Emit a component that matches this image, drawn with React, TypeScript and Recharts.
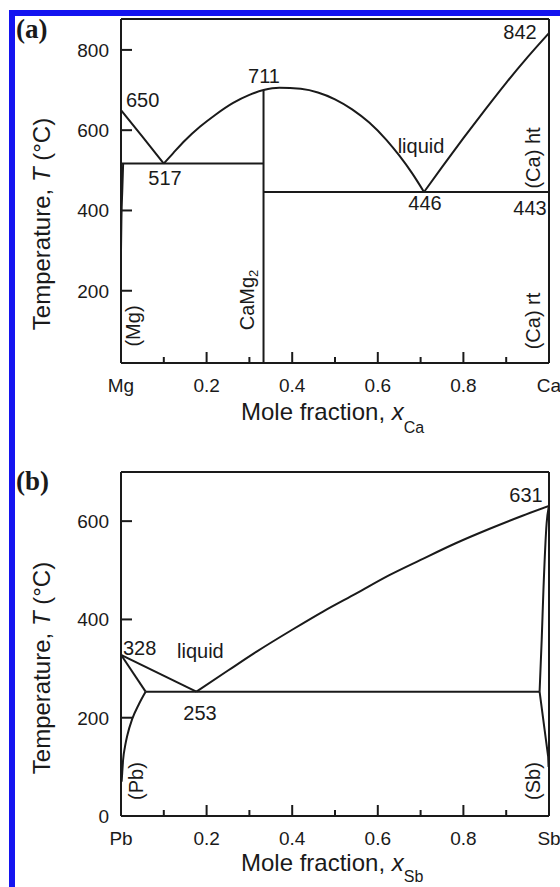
import React from 'react';
import { LineChart, Line, XAxis, YAxis, ReferenceLine } from 'recharts';

const FONT = '"Liberation Sans", Arial, Helvetica, sans-serif';
const SERIF = '"Liberation Serif", "Times New Roman", serif';
const INK = '#1a1a1a';

// ---------- axes ----------
const xTickValues = [0, 0.1, 0.2, 0.3, 0.4, 0.5, 0.6, 0.7, 0.8, 0.9, 1];
const xTickLabelsA = ['Mg', '', '0.2', '', '0.4', '', '0.6', '', '0.8', '', 'Ca'];
const xTickLabelsB = ['Pb', '', '0.2', '', '0.4', '', '0.6', '', '0.8', '', 'Sb'];
const yTicksA = [200, 400, 600, 800];
const yTicksB = [0, 200, 400, 600];
const yDomainA: [number, number] = [20, 877];
const yDomainB: [number, number] = [0, 700];

// ---------- (a) Mg–Ca ----------
const aMgLiqX = [0, 0.05, 0.1];
const aMgLiqT = [650, 584, 517];
const aDomeX = [0.1, 0.122, 0.15, 0.185, 0.22, 0.262, 0.3, 0.333, 0.37, 0.42, 0.46, 0.5, 0.54, 0.58, 0.62, 0.65, 0.68, 0.708];
const aDomeT = [517, 543, 575, 609, 638, 668, 688, 700, 706, 703, 694, 677, 652, 619, 576, 537, 493, 446];
const aCaLiqX = [0.708, 0.75, 0.8, 0.85, 0.9, 0.95, 1];
const aCaLiqT = [446, 508, 580, 650, 718, 782, 842];
const aEut1X = [0, 0.333];
const aEut1T = [517, 517];
const aEut2X = [0.333, 1];
const aEut2T = [446, 446];
const aCompX = [0.333, 0.333];
const aCompT = [700, 20];
const aMgSolvX = [0, 0.001, 0.003, 0.005];
const aMgSolvT = [300, 380, 450, 517];

// ---------- (b) Pb–Sb ----------
const bPbLiqX = [0, 0.176];
const bPbLiqT = [328, 253];
const bSbLiqX = [0.176, 0.25, 0.316, 0.4, 0.472, 0.55, 0.627, 0.7, 0.782, 0.86, 0.938, 1];
const bSbLiqT = [253, 296, 334, 379, 416, 453, 490, 521, 555, 584, 611, 631];
const bPbSolX = [0, 0.0575];
const bPbSolT = [328, 253];
const bPbSolvX = [0.0015, 0.003, 0.005, 0.0093, 0.015, 0.026, 0.042, 0.0575];
const bPbSolvT = [70, 90, 115, 141, 165, 197, 228, 253];
const bEutX = [0.0575, 0.978];
const bEutT = [253, 253];
const bSbSolX = [0.978, 0.983, 0.987, 0.9945, 1];
const bSbSolT = [253, 360, 460, 596, 631];
const bSbSolvX = [0.978, 0.998, 0.999];
const bSbSolvT = [253, 121, 100];

const zip = (xs: number[], ts: number[]) => xs.map((x, i) => ({ x, y: ts[i] }));

type Curve = { id: string; data: { x: number; y: number }[]; smooth: boolean };

const curvesA: Curve[] = [
  { id: 'mgLiq', data: zip(aMgLiqX, aMgLiqT), smooth: false },
  { id: 'dome', data: zip(aDomeX, aDomeT), smooth: true },
  { id: 'caLiq', data: zip(aCaLiqX, aCaLiqT), smooth: true },
  { id: 'eut1', data: zip(aEut1X, aEut1T), smooth: false },
  { id: 'eut2', data: zip(aEut2X, aEut2T), smooth: false },
  { id: 'comp', data: zip(aCompX, aCompT), smooth: false },
  { id: 'mgSolv', data: zip(aMgSolvX, aMgSolvT), smooth: true },
];

const curvesB: Curve[] = [
  { id: 'pbLiq', data: zip(bPbLiqX, bPbLiqT), smooth: false },
  { id: 'sbLiq', data: zip(bSbLiqX, bSbLiqT), smooth: true },
  { id: 'pbSol', data: zip(bPbSolX, bPbSolT), smooth: false },
  { id: 'pbSolv', data: zip(bPbSolvX, bPbSolvT), smooth: true },
  { id: 'eut', data: zip(bEutX, bEutT), smooth: false },
  { id: 'sbSol', data: zip(bSbSolX, bSbSolT), smooth: true },
  { id: 'sbSolv', data: zip(bSbSolvX, bSbSolvT), smooth: false },
];

const XTick = (props: any) => {
  const { x, y, index, labels } = props;
  const label = labels[index] ?? '';
  const major = label !== '';
  return (
    <g>
      <line x1={x} x2={x} y1={y} y2={y - (major ? 11 : 6)} stroke={INK} strokeWidth={2} />
      {major && (
        <text x={x} y={y + 29} textAnchor="middle" fontSize={19} fontFamily={FONT} fill={INK}>
          {label}
        </text>
      )}
    </g>
  );
};

const YTick = (props: any) => {
  const { x, y, payload } = props;
  return (
    <g>
      <line x1={x} x2={x + 11} y1={y} y2={y} stroke={INK} strokeWidth={2} />
      <text x={x - 12} y={y + 7} textAnchor="end" fontSize={19} fontFamily={FONT} fill={INK}>
        {payload.value}
      </text>
    </g>
  );
};

function Panel({ curves, yDomain, yTicks, labels }: { curves: Curve[]; yDomain: [number, number]; yTicks: number[]; labels: string[] }) {
  return (
    <LineChart width={560} height={450} margin={{ top: 19, right: 11, bottom: 57, left: 0 }}>
      <XAxis
        type="number"
        dataKey="x"
        domain={[0, 1]}
        ticks={xTickValues}
        interval={0}
        allowDataOverflow
        height={30}
        tickSize={0}
        tickMargin={0}
        tickLine={false}
        axisLine={{ stroke: INK, strokeWidth: 2 }}
        tick={(p: any) => <XTick {...p} labels={labels} />}
      />
      <YAxis
        type="number"
        dataKey="y"
        domain={yDomain}
        ticks={yTicks}
        interval={0}
        allowDataOverflow
        width={121}
        tickSize={0}
        tickMargin={0}
        tickLine={false}
        axisLine={{ stroke: INK, strokeWidth: 2 }}
        tick={(p: any) => <YTick {...p} />}
      />
      <ReferenceLine y={yDomain[1]} stroke={INK} strokeWidth={2} ifOverflow="visible" />
      <ReferenceLine x={1} stroke={INK} strokeWidth={2} ifOverflow="visible" />
      {curves.map((c) => (
        <Line
          key={c.id}
          data={c.data}
          dataKey="y"
          type={c.smooth ? 'monotoneX' : 'linear'}
          stroke={INK}
          strokeWidth={2}
          dot={false}
          activeDot={false}
          isAnimationActive={false}
        />
      ))}
    </LineChart>
  );
}

const txt = { fontFamily: FONT, fill: INK } as const;

function Overlay() {
  return (
    <svg width={560} height={887} style={{ position: 'absolute', left: 0, top: 0 }}>
      {/* panel tags */}
      <text x={16} y={38} fontFamily={SERIF} fontWeight="bold" fontSize={27} fill={INK}>(a)</text>
      <text x={16} y={490} fontFamily={SERIF} fontWeight="bold" fontSize={27} fill={INK}>(b)</text>

      {/* axis titles (a) */}
      <text {...txt} fontSize={24} textAnchor="middle" transform="translate(50,224) rotate(-90)">
        Temperature, <tspan fontStyle="italic">T</tspan> (°C)
      </text>
      <text {...txt} fontSize={24} x={241} y={420}>
        Mole fraction, <tspan fontStyle="italic">x</tspan>
        <tspan fontSize={16} dy={13}>Ca</tspan>
      </text>
      {/* axis titles (b) */}
      <text {...txt} fontSize={24} textAnchor="middle" transform="translate(50,668) rotate(-90)">
        Temperature, <tspan fontStyle="italic">T</tspan> (°C)
      </text>
      <text {...txt} fontSize={24} x={241} y={871}>
        Mole fraction, <tspan fontStyle="italic">x</tspan>
        <tspan fontSize={16} dy={11}>Sb</tspan>
      </text>

      {/* annotations (a) */}
      <text {...txt} fontSize={20} x={126} y={107}>650</text>
      <text {...txt} fontSize={20} x={264} y={83} textAnchor="middle">711</text>
      <text {...txt} fontSize={20} x={165} y={185} textAnchor="middle">517</text>
      <text {...txt} fontSize={20} x={421} y={153} textAnchor="middle">liquid</text>
      <text {...txt} fontSize={20} x={425} y={210} textAnchor="middle">446</text>
      <text {...txt} fontSize={20} x={530} y={215} textAnchor="middle">443</text>
      <text {...txt} fontSize={20} x={520} y={39} textAnchor="middle">842</text>
      <text {...txt} fontSize={20} textAnchor="middle" transform="translate(540,158) rotate(-90)">(Ca) ht</text>
      <text {...txt} fontSize={20} textAnchor="middle" transform="translate(540,321) rotate(-90)">(Ca) rt</text>
      <text {...txt} fontSize={20} textAnchor="middle" transform="translate(140,326) rotate(-90)">(Mg)</text>
      <text {...txt} fontSize={20} textAnchor="middle" transform="translate(254,300) rotate(-90)">
        CaMg<tspan fontSize={13} dy={4}>2</tspan>
      </text>

      {/* annotations (b) */}
      <text {...txt} fontSize={20} x={526} y={502} textAnchor="middle">631</text>
      <text {...txt} fontSize={20} x={123} y={655}>328</text>
      <text {...txt} fontSize={20} x={177} y={658}>liquid</text>
      <text {...txt} fontSize={20} x={200} y={720} textAnchor="middle">253</text>
      <text {...txt} fontSize={20} textAnchor="middle" transform="translate(143,781) rotate(-90)">(Pb)</text>
      <text {...txt} fontSize={20} textAnchor="middle" transform="translate(540,781) rotate(-90)">(Sb)</text>
    </svg>
  );
}

export default function App() {
  return (
    <div style={{ position: 'absolute', left: 0, top: 0, width: 560, height: 887, overflow: 'hidden', background: '#fff' }}>
      <div
        style={{
          position: 'absolute',
          left: 9,
          top: 10,
          width: 560,
          height: 900,
          borderLeft: '6px solid #1414f0',
          borderTop: '6px solid #1414f0',
        }}
      />
      <div style={{ position: 'absolute', left: 0, top: 0 }}>
        <Panel curves={curvesA} yDomain={yDomainA} yTicks={yTicksA} labels={xTickLabelsA} />
      </div>
      <div style={{ position: 'absolute', left: 0, top: 453 }}>
        <Panel curves={curvesB} yDomain={yDomainB} yTicks={yTicksB} labels={xTickLabelsB} />
      </div>
      <Overlay />
    </div>
  );
}
